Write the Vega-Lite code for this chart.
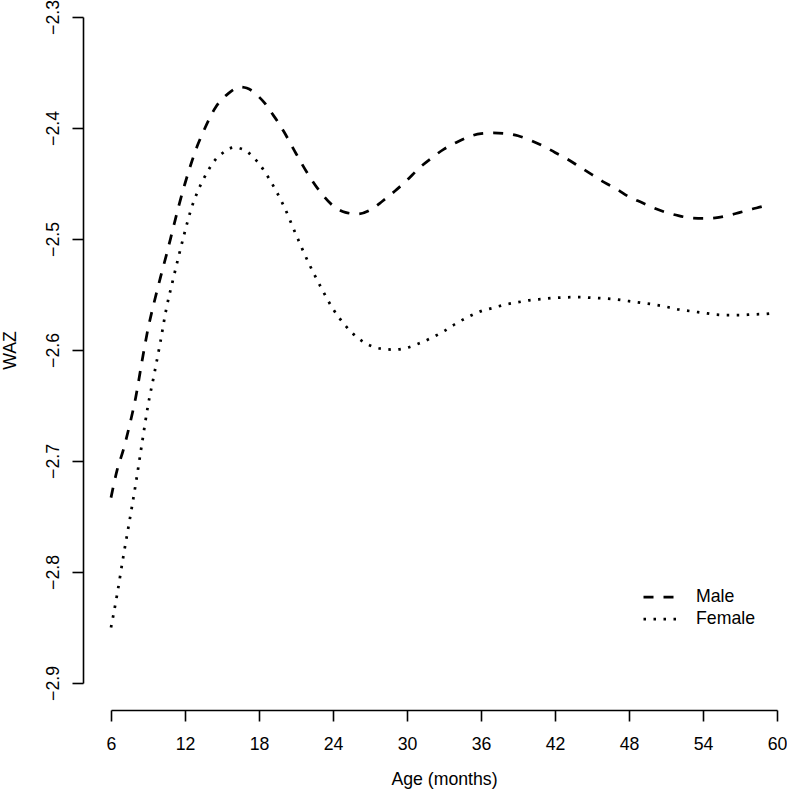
{
  "$schema": "https://vega.github.io/schema/vega-lite/v6.json",
  "width": 666,
  "height": 666,
  "autosize": {"type": "none"},
  "padding": {"left": 111, "top": 17, "right": 10, "bottom": 107},
  "background": "white",
  "config": {
    "font": "Liberation Sans",
    "view": {"stroke": null},
    "axis": {
      "grid": false,
      "domainColor": "black",
      "domainWidth": 1.6,
      "tickColor": "black",
      "tickWidth": 1.6,
      "tickSize": 11,
      "labelColor": "black",
      "titleColor": "black",
      "labelFontSize": 17.7,
      "titleFontSize": 17.7,
      "titleFontWeight": "normal",
      "labelFont": "Liberation Sans",
      "titleFont": "Liberation Sans"
    }
  },
  "data": {
    "values": [
      {"age": 6, "waz": -2.733, "sex": "Male"},
      {"age": 6.5, "waz": -2.708, "sex": "Male"},
      {"age": 7, "waz": -2.69, "sex": "Male"},
      {"age": 7.5, "waz": -2.668, "sex": "Male"},
      {"age": 8, "waz": -2.643, "sex": "Male"},
      {"age": 8.5, "waz": -2.611, "sex": "Male"},
      {"age": 9, "waz": -2.581, "sex": "Male"},
      {"age": 9.5, "waz": -2.557, "sex": "Male"},
      {"age": 10, "waz": -2.535, "sex": "Male"},
      {"age": 10.5, "waz": -2.514, "sex": "Male"},
      {"age": 11, "waz": -2.492, "sex": "Male"},
      {"age": 11.5, "waz": -2.47, "sex": "Male"},
      {"age": 12, "waz": -2.45, "sex": "Male"},
      {"age": 12.5, "waz": -2.432, "sex": "Male"},
      {"age": 13, "waz": -2.416, "sex": "Male"},
      {"age": 13.5, "waz": -2.403, "sex": "Male"},
      {"age": 14, "waz": -2.391, "sex": "Male"},
      {"age": 14.5, "waz": -2.381, "sex": "Male"},
      {"age": 15, "waz": -2.374, "sex": "Male"},
      {"age": 15.5, "waz": -2.369, "sex": "Male"},
      {"age": 16, "waz": -2.365, "sex": "Male"},
      {"age": 16.5, "waz": -2.363, "sex": "Male"},
      {"age": 17, "waz": -2.364, "sex": "Male"},
      {"age": 17.5, "waz": -2.367, "sex": "Male"},
      {"age": 18, "waz": -2.372, "sex": "Male"},
      {"age": 18.5, "waz": -2.378, "sex": "Male"},
      {"age": 19, "waz": -2.386, "sex": "Male"},
      {"age": 19.5, "waz": -2.394, "sex": "Male"},
      {"age": 20, "waz": -2.403, "sex": "Male"},
      {"age": 21, "waz": -2.423, "sex": "Male"},
      {"age": 22, "waz": -2.442, "sex": "Male"},
      {"age": 23, "waz": -2.458, "sex": "Male"},
      {"age": 24, "waz": -2.47, "sex": "Male"},
      {"age": 25, "waz": -2.476, "sex": "Male"},
      {"age": 26, "waz": -2.4775, "sex": "Male"},
      {"age": 27, "waz": -2.474, "sex": "Male"},
      {"age": 28, "waz": -2.466, "sex": "Male"},
      {"age": 29, "waz": -2.457, "sex": "Male"},
      {"age": 30, "waz": -2.447, "sex": "Male"},
      {"age": 31, "waz": -2.436, "sex": "Male"},
      {"age": 32, "waz": -2.427, "sex": "Male"},
      {"age": 33, "waz": -2.419, "sex": "Male"},
      {"age": 34, "waz": -2.413, "sex": "Male"},
      {"age": 35, "waz": -2.408, "sex": "Male"},
      {"age": 36, "waz": -2.405, "sex": "Male"},
      {"age": 37, "waz": -2.4045, "sex": "Male"},
      {"age": 38, "waz": -2.405, "sex": "Male"},
      {"age": 39, "waz": -2.407, "sex": "Male"},
      {"age": 40, "waz": -2.411, "sex": "Male"},
      {"age": 41, "waz": -2.416, "sex": "Male"},
      {"age": 42, "waz": -2.422, "sex": "Male"},
      {"age": 43, "waz": -2.428, "sex": "Male"},
      {"age": 44, "waz": -2.435, "sex": "Male"},
      {"age": 45, "waz": -2.442, "sex": "Male"},
      {"age": 46, "waz": -2.449, "sex": "Male"},
      {"age": 47, "waz": -2.455, "sex": "Male"},
      {"age": 48, "waz": -2.462, "sex": "Male"},
      {"age": 49, "waz": -2.467, "sex": "Male"},
      {"age": 50, "waz": -2.472, "sex": "Male"},
      {"age": 51, "waz": -2.476, "sex": "Male"},
      {"age": 52, "waz": -2.479, "sex": "Male"},
      {"age": 53, "waz": -2.481, "sex": "Male"},
      {"age": 54, "waz": -2.4815, "sex": "Male"},
      {"age": 55, "waz": -2.481, "sex": "Male"},
      {"age": 56, "waz": -2.479, "sex": "Male"},
      {"age": 57, "waz": -2.476, "sex": "Male"},
      {"age": 58, "waz": -2.473, "sex": "Male"},
      {"age": 59, "waz": -2.47, "sex": "Male"},
      {"age": 59.5, "waz": -2.468, "sex": "Male"},
      {"age": 6, "waz": -2.85, "sex": "Female"},
      {"age": 6.5, "waz": -2.82, "sex": "Female"},
      {"age": 7, "waz": -2.786, "sex": "Female"},
      {"age": 7.5, "waz": -2.754, "sex": "Female"},
      {"age": 8, "waz": -2.721, "sex": "Female"},
      {"age": 8.5, "waz": -2.685, "sex": "Female"},
      {"age": 9, "waz": -2.65, "sex": "Female"},
      {"age": 9.5, "waz": -2.622, "sex": "Female"},
      {"age": 10, "waz": -2.593, "sex": "Female"},
      {"age": 10.5, "waz": -2.562, "sex": "Female"},
      {"age": 11, "waz": -2.538, "sex": "Female"},
      {"age": 11.5, "waz": -2.515, "sex": "Female"},
      {"age": 12, "waz": -2.493, "sex": "Female"},
      {"age": 12.5, "waz": -2.473, "sex": "Female"},
      {"age": 13, "waz": -2.458, "sex": "Female"},
      {"age": 13.5, "waz": -2.446, "sex": "Female"},
      {"age": 14, "waz": -2.436, "sex": "Female"},
      {"age": 14.5, "waz": -2.428, "sex": "Female"},
      {"age": 15, "waz": -2.423, "sex": "Female"},
      {"age": 15.5, "waz": -2.419, "sex": "Female"},
      {"age": 16, "waz": -2.4175, "sex": "Female"},
      {"age": 16.5, "waz": -2.4185, "sex": "Female"},
      {"age": 17, "waz": -2.421, "sex": "Female"},
      {"age": 17.5, "waz": -2.426, "sex": "Female"},
      {"age": 18, "waz": -2.432, "sex": "Female"},
      {"age": 18.5, "waz": -2.44, "sex": "Female"},
      {"age": 19, "waz": -2.449, "sex": "Female"},
      {"age": 19.5, "waz": -2.459, "sex": "Female"},
      {"age": 20, "waz": -2.47, "sex": "Female"},
      {"age": 21, "waz": -2.496, "sex": "Female"},
      {"age": 22, "waz": -2.521, "sex": "Female"},
      {"age": 23, "waz": -2.543, "sex": "Female"},
      {"age": 24, "waz": -2.563, "sex": "Female"},
      {"age": 25, "waz": -2.578, "sex": "Female"},
      {"age": 26, "waz": -2.589, "sex": "Female"},
      {"age": 27, "waz": -2.596, "sex": "Female"},
      {"age": 28, "waz": -2.599, "sex": "Female"},
      {"age": 29, "waz": -2.5997, "sex": "Female"},
      {"age": 30, "waz": -2.598, "sex": "Female"},
      {"age": 31, "waz": -2.594, "sex": "Female"},
      {"age": 32, "waz": -2.589, "sex": "Female"},
      {"age": 33, "waz": -2.583, "sex": "Female"},
      {"age": 34, "waz": -2.576, "sex": "Female"},
      {"age": 35, "waz": -2.57, "sex": "Female"},
      {"age": 36, "waz": -2.565, "sex": "Female"},
      {"age": 37, "waz": -2.562, "sex": "Female"},
      {"age": 38, "waz": -2.559, "sex": "Female"},
      {"age": 39, "waz": -2.557, "sex": "Female"},
      {"age": 40, "waz": -2.555, "sex": "Female"},
      {"age": 41, "waz": -2.554, "sex": "Female"},
      {"age": 42, "waz": -2.553, "sex": "Female"},
      {"age": 43, "waz": -2.5525, "sex": "Female"},
      {"age": 44, "waz": -2.5523, "sex": "Female"},
      {"age": 45, "waz": -2.553, "sex": "Female"},
      {"age": 46, "waz": -2.5535, "sex": "Female"},
      {"age": 47, "waz": -2.5545, "sex": "Female"},
      {"age": 48, "waz": -2.556, "sex": "Female"},
      {"age": 49, "waz": -2.5575, "sex": "Female"},
      {"age": 50, "waz": -2.559, "sex": "Female"},
      {"age": 51, "waz": -2.561, "sex": "Female"},
      {"age": 52, "waz": -2.5635, "sex": "Female"},
      {"age": 53, "waz": -2.565, "sex": "Female"},
      {"age": 54, "waz": -2.5665, "sex": "Female"},
      {"age": 55, "waz": -2.568, "sex": "Female"},
      {"age": 56, "waz": -2.5685, "sex": "Female"},
      {"age": 57, "waz": -2.5685, "sex": "Female"},
      {"age": 58, "waz": -2.568, "sex": "Female"},
      {"age": 59, "waz": -2.5675, "sex": "Female"},
      {"age": 59.5, "waz": -2.567, "sex": "Female"}
    ]
  },
  "mark": {"type": "line", "color": "black", "strokeWidth": 2.75, "interpolate": "monotone", "clip": false},
  "encoding": {
    "x": {
      "field": "age",
      "type": "quantitative",
      "scale": {"domain": [6, 60], "nice": false, "zero": false},
      "axis": {
        "title": "Age (months)",
        "values": [6, 12, 18, 24, 30, 36, 42, 48, 54, 60],
        "offset": 27,
        "labelPadding": 14,
        "titlePadding": 18,
        "labelFlush": false
      }
    },
    "y": {
      "field": "waz",
      "type": "quantitative",
      "scale": {"domain": [-2.9, -2.3], "nice": false, "zero": false},
      "axis": {
        "title": "WAZ",
        "values": [-2.9, -2.8, -2.7, -2.6, -2.5, -2.4, -2.3],
        "labelExpr": "replace(format(datum.value, '.1f'), '-', '\u2212')",
        "labelAngle": -90,
        "offset": 28,
        "labelPadding": 10,
        "titlePadding": 25,
        "labelFlush": false
      }
    },
    "strokeDash": {
      "field": "sex",
      "type": "nominal",
      "scale": {"domain": ["Male", "Female"], "range": [[10, 10], [2.5, 7.5]]},
      "legend": {
        "title": null,
        "orient": "none",
        "legendX": 531,
        "legendY": 569,
        "symbolType": "stroke",
        "symbolSize": 1089,
        "symbolStrokeWidth": 2.75,
        "symbolStrokeColor": "black",
        "labelFontSize": 17.7,
        "labelColor": "black",
        "labelFont": "Liberation Sans",
        "labelOffset": 18,
        "clipHeight": 22,
        "rowPadding": 0,
        "padding": 0
      }
    }
  }
}
